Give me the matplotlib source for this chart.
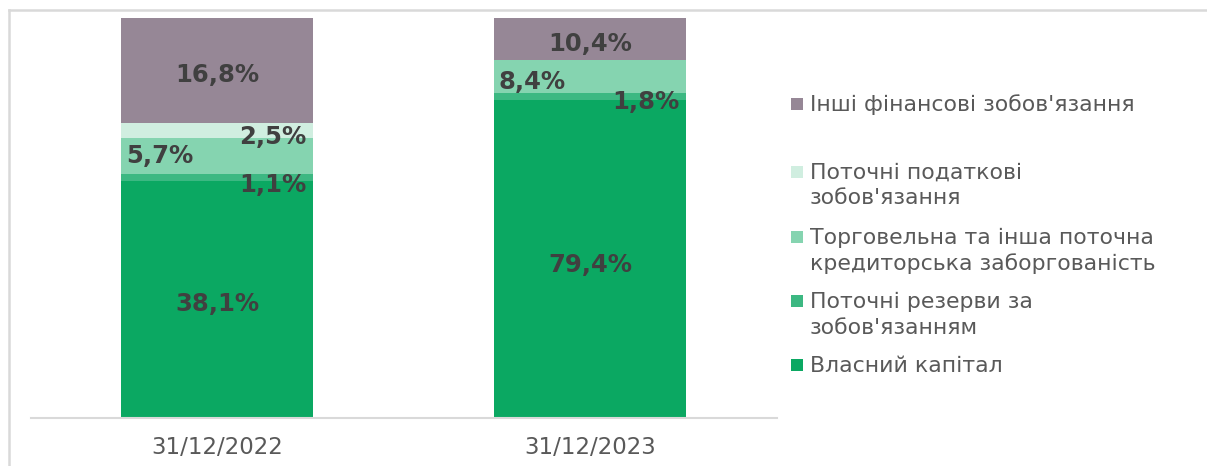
import matplotlib
matplotlib.use("Agg")
import matplotlib.pyplot as plt
from matplotlib.patches import Rectangle
from matplotlib.lines import Line2D
import numpy as np

plt.rcParams['font.family'] = ['DejaVu Sans']

categories = ["31/12/2022", "31/12/2023"]
series_names = [
    "Власний капітал",
    "Поточні резерви за\nзобов'язанням",
    "Торговельна та інша поточна\nкредиторська заборгованість",
    "Поточні податкові\nзобов'язання",
    "Інші фінансові зобов'язання",
]
own_capital = [38.1, 79.4]
provisions = [1.1, 1.8]
trade_payables = [5.7, 8.4]
tax_liabilities = [2.5, 0.0]
other_fin = [16.8, 10.4]

colors = ["#0ba862", "#3cb882", "#85d4b0", "#d0eee0", "#968796"]

# label alignment (per series, per category) and vertical pixel offsets (down)
label_ha = [["center", "center"], ["right", "right"], ["left", "left"], ["right", "right"], ["center", "center"]]
label_dy = [[4.5, 5.5], [7.5, 5.5], [-0.5, 5.5], [7, 0], [4.5, 5.5]]

W, H = 1207, 466
dpi = 100
fig = plt.figure(figsize=(W / dpi, H / dpi), dpi=dpi)
ax = fig.add_axes([30.5 / W, (H - 418) / H, (776.5 - 30.5) / W, (418 - 18) / H])

data = np.array([own_capital, provisions, trade_payables, tax_liabilities, other_fin])
totals = data.sum(axis=0)
norm = data / totals
x = np.arange(len(categories))
bw = 0.515
bottom = np.zeros(len(categories))
for i in range(len(series_names)):
    ax.bar(x, norm[i], bw, bottom=bottom, color=colors[i], edgecolor="none", zorder=2)
    for j in range(len(categories)):
        v = data[i, j]
        if v > 0:
            ha = label_ha[i][j]
            if ha == "center":
                xp = x[j]; dx = 0
            elif ha == "left":
                xp = x[j] - bw / 2; dx = 5
            else:
                xp = x[j] + bw / 2; dx = -7
            ax.annotate(f"{v:.1f}%".replace(".", ","), (xp, bottom[j] + norm[i, j] / 2),
                        xytext=(dx * 0.72, -label_dy[i][j] * 0.72), textcoords="offset points",
                        ha=ha, va="center", fontsize=17.5, fontweight="bold",
                        color="#404040", zorder=3)
    bottom += norm[i]

ax.set_xlim(-0.5, 1.5)
ax.set_ylim(0, 1)
ax.set_yticks([])
for s in ["top", "right", "left"]:
    ax.spines[s].set_visible(False)
ax.spines["bottom"].set_color("#d9d9d9")
ax.spines["bottom"].set_linewidth(1.5)
ax.set_xticks(x)
ax.set_xticklabels(categories, fontsize=16.5, color="#595959")
ax.tick_params(axis="x", length=0, pad=13)

# legend (manual, top-down)
legend_y = [104, 172, 237, 301, 365]
order = [4, 3, 2, 1, 0]
for yy, i in zip(legend_y, order):
    fig.patches.append(Rectangle((791 / W, 1 - (yy + 6) / H), 12 / W, 12 / H,
                                 transform=fig.transFigure, facecolor=colors[i],
                                 edgecolor="none"))
    lines = series_names[i].split("\n")
    for k, ln in enumerate(lines):
        fig.text(810 / W, 1 - (yy + 1 + k * 25.5) / H, ln, ha="left", va="center",
                 fontsize=15.8, color="#595959")

# chart frame lines
fig.add_artist(Line2D([8.5 / W, 1.0], [1 - 9.5 / H, 1 - 9.5 / H], color="#d9d9d9", lw=1.8,
                      transform=fig.transFigure))
fig.add_artist(Line2D([8.5 / W, 8.5 / W], [1 - 9.5 / H, 0], color="#d9d9d9", lw=1.8,
                      transform=fig.transFigure))

fig.savefig("out.png", dpi=dpi)
